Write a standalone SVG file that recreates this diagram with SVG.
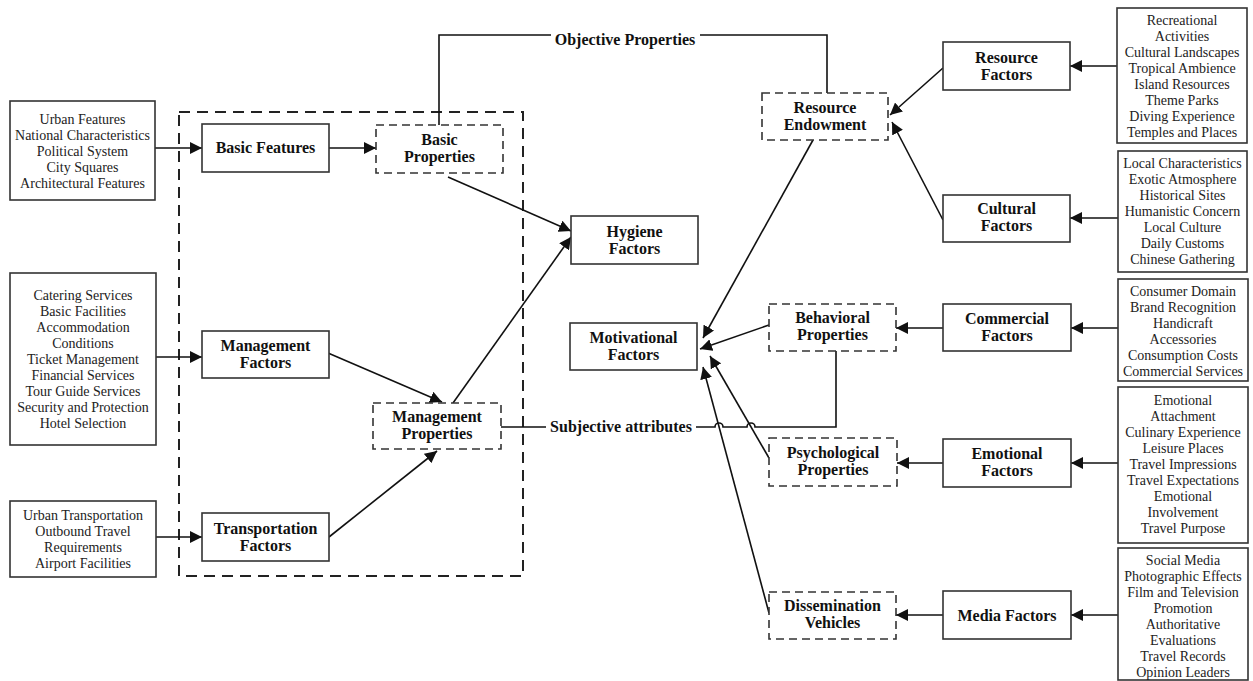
<svg xmlns="http://www.w3.org/2000/svg" width="1253" height="681" viewBox="0 0 1253 681">
<style>
.bx{fill:#fff;stroke:#333;stroke-width:1.6}
.db{fill:#fff;stroke:#333;stroke-width:1.6;stroke-dasharray:8 5}
.big{fill:none;stroke:#222;stroke-width:2;stroke-dasharray:11 7}
.ln{fill:none;stroke:#111;stroke-width:1.6}
.ar{fill:none;stroke:#111;stroke-width:1.6;marker-end:url(#ah)}
.t{font-family:"Liberation Serif","Times New Roman",serif;font-size:16px;font-weight:bold;fill:#111;text-anchor:middle}
.l{font-family:"Liberation Serif","Times New Roman",serif;font-size:14px;fill:#222;text-anchor:middle}
</style>
<defs>
<marker id="ah" markerUnits="userSpaceOnUse" markerWidth="13" markerHeight="12" refX="12" refY="6" orient="auto">
<path d="M0,0 L12,6 L0,12 z" fill="#111"/>
</marker>
</defs>
<rect width="1253" height="681" fill="#fff"/>

<rect class="big" x="179" y="112" width="344" height="464"/>

<g id="connectors">
<path class="ln" d="M439,125 V35 H827 V93"/>
<path class="ln" d="M501,427 H715 a4,4 0 0 1 8,0 H747 a4,4 0 0 1 8,0 H836 V351"/>
<path class="ar" d="M155,148 H202"/>
<path class="ar" d="M329,148 H376"/>
<path class="ar" d="M156,357 H202"/>
<path class="ar" d="M156,537 H202"/>
<path class="ar" d="M448,177 L571,231"/>
<path class="ar" d="M453,403 L571,237"/>
<path class="ar" d="M328,353 L442,402"/>
<path class="ar" d="M329,537 L437,451"/>
<path class="ar" d="M813,140 L703,338"/>
<path class="ar" d="M769,325 L700,349"/>
<path class="ar" d="M769,458 L710,356"/>
<path class="ar" d="M769,613 L703,367"/>
<path class="ar" d="M943,68 L890,115"/>
<path class="ar" d="M943,220 L892,122"/>
<path class="ar" d="M1117,66 H1070"/>
<path class="ar" d="M1118,218 H1070"/>
<path class="ar" d="M1118,328 H1071"/>
<path class="ar" d="M943,328 H896"/>
<path class="ar" d="M1118,463 H1071"/>
<path class="ar" d="M943,463 H897"/>
<path class="ar" d="M1118,615 H1071"/>
<path class="ar" d="M943,615 H896"/>
<rect x="551" y="28" width="149" height="16" fill="#fff"/>
<text class="t" x="625" y="45">Objective Properties</text>
<rect x="546" y="419" width="150" height="16" fill="#fff"/>
<text class="t" x="621" y="432">Subjective attributes</text>
</g>

<g id="urban-list">
<rect class="bx" x="10" y="101" width="145" height="99"/>
<text class="l" x="82.5" y="123.5">Urban Features</text>
<text class="l" x="82.5" y="139.5">National Characteristics</text>
<text class="l" x="82.5" y="155.5">Political System</text>
<text class="l" x="82.5" y="171.5">City Squares</text>
<text class="l" x="82.5" y="187.5">Architectural Features</text>
</g>
<g id="management-list">
<rect class="bx" x="10" y="273" width="146" height="172"/>
<text class="l" x="83" y="299.5">Catering Services</text>
<text class="l" x="83" y="315.5">Basic Facilities</text>
<text class="l" x="83" y="331.5">Accommodation</text>
<text class="l" x="83" y="347.5">Conditions</text>
<text class="l" x="83" y="363.5">Ticket Management</text>
<text class="l" x="83" y="379.5">Financial Services</text>
<text class="l" x="83" y="395.5">Tour Guide Services</text>
<text class="l" x="83" y="411.5">Security and Protection</text>
<text class="l" x="83" y="427.5">Hotel Selection</text>
</g>
<g id="transport-list">
<rect class="bx" x="10" y="501" width="146" height="76"/>
<text class="l" x="83" y="519.5">Urban Transportation</text>
<text class="l" x="83" y="535.5">Outbound Travel</text>
<text class="l" x="83" y="551.5">Requirements</text>
<text class="l" x="83" y="567.5">Airport Facilities</text>
</g>

<g id="basic-features">
<rect class="bx" x="202" y="124" width="127" height="48"/>
<text class="t" x="265.5" y="153">Basic Features</text>
</g>
<g id="management-factors">
<rect class="bx" x="202" y="331" width="127" height="47"/>
<text class="t" x="265.5" y="351">Management</text>
<text class="t" x="265.5" y="368">Factors</text>
</g>
<g id="transportation-factors">
<rect class="bx" x="202" y="513" width="127" height="48"/>
<text class="t" x="265.5" y="533.5">Transportation</text>
<text class="t" x="265.5" y="550.5">Factors</text>
</g>
<g id="basic-properties">
<rect class="db" x="376" y="125" width="127" height="48"/>
<text class="t" x="439.5" y="145">Basic</text>
<text class="t" x="439.5" y="162">Properties</text>
</g>
<g id="management-properties">
<rect class="db" x="373" y="403" width="128" height="46"/>
<text class="t" x="437" y="422">Management</text>
<text class="t" x="437" y="439">Properties</text>
</g>
<g id="hygiene-factors">
<rect class="bx" x="571" y="216" width="127" height="48"/>
<text class="t" x="634.5" y="236.5">Hygiene</text>
<text class="t" x="634.5" y="253.5">Factors</text>
</g>
<g id="motivational-factors">
<rect class="bx" x="570" y="323" width="127" height="47"/>
<text class="t" x="633.5" y="342.5">Motivational</text>
<text class="t" x="633.5" y="359.5">Factors</text>
</g>
<g id="resource-endowment">
<rect class="db" x="762" y="93" width="126" height="47"/>
<text class="t" x="825" y="112.5">Resource</text>
<text class="t" x="825" y="129.5">Endowment</text>
</g>
<g id="behavioral-properties">
<rect class="db" x="769" y="304" width="127" height="47"/>
<text class="t" x="832.5" y="323">Behavioral</text>
<text class="t" x="832.5" y="340">Properties</text>
</g>
<g id="psychological-properties">
<rect class="db" x="769" y="438" width="128" height="48"/>
<text class="t" x="833" y="458">Psychological</text>
<text class="t" x="833" y="475">Properties</text>
</g>
<g id="dissemination-vehicles">
<rect class="db" x="769" y="592" width="127" height="47"/>
<text class="t" x="832.5" y="611">Dissemination</text>
<text class="t" x="832.5" y="628">Vehicles</text>
</g>

<g id="resource-factors">
<rect class="bx" x="943" y="42" width="127" height="48"/>
<text class="t" x="1006.5" y="62.5">Resource</text>
<text class="t" x="1006.5" y="79.5">Factors</text>
</g>
<g id="cultural-factors">
<rect class="bx" x="943" y="195" width="127" height="47"/>
<text class="t" x="1006.5" y="214">Cultural</text>
<text class="t" x="1006.5" y="231">Factors</text>
</g>
<g id="commercial-factors">
<rect class="bx" x="943" y="304" width="128" height="47"/>
<text class="t" x="1007" y="323.5">Commercial</text>
<text class="t" x="1007" y="340.5">Factors</text>
</g>
<g id="emotional-factors">
<rect class="bx" x="943" y="439" width="128" height="48"/>
<text class="t" x="1007" y="458.5">Emotional</text>
<text class="t" x="1007" y="475.5">Factors</text>
</g>
<g id="media-factors">
<rect class="bx" x="943" y="591" width="128" height="48"/>
<text class="t" x="1007" y="620.5">Media Factors</text>
</g>

<g id="resource-list">
<rect class="bx" x="1117" y="8" width="130" height="135"/>
<text class="l" x="1182" y="24.5">Recreational</text>
<text class="l" x="1182" y="40.5">Activities</text>
<text class="l" x="1182" y="56.5">Cultural Landscapes</text>
<text class="l" x="1182" y="72.5">Tropical Ambience</text>
<text class="l" x="1182" y="88.5">Island Resources</text>
<text class="l" x="1182" y="104.5">Theme Parks</text>
<text class="l" x="1182" y="120.5">Diving Experience</text>
<text class="l" x="1182" y="136.5">Temples and Places</text>
</g>
<g id="cultural-list">
<rect class="bx" x="1118" y="151" width="129" height="121"/>
<text class="l" x="1182.5" y="167.5">Local Characteristics</text>
<text class="l" x="1182.5" y="183.5">Exotic Atmosphere</text>
<text class="l" x="1182.5" y="199.5">Historical Sites</text>
<text class="l" x="1182.5" y="215.5">Humanistic Concern</text>
<text class="l" x="1182.5" y="231.5">Local Culture</text>
<text class="l" x="1182.5" y="247.5">Daily Customs</text>
<text class="l" x="1182.5" y="263.5">Chinese Gathering</text>
</g>
<g id="commercial-list">
<rect class="bx" x="1118" y="279" width="130" height="102"/>
<text class="l" x="1183" y="295.5">Consumer Domain</text>
<text class="l" x="1183" y="311.5">Brand Recognition</text>
<text class="l" x="1183" y="327.5">Handicraft</text>
<text class="l" x="1183" y="343.5">Accessories</text>
<text class="l" x="1183" y="359.5">Consumption Costs</text>
<text class="l" x="1183" y="375.5">Commercial Services</text>
</g>
<g id="emotional-list">
<rect class="bx" x="1118" y="387" width="130" height="156"/>
<text class="l" x="1183" y="404.5">Emotional</text>
<text class="l" x="1183" y="420.5">Attachment</text>
<text class="l" x="1183" y="436.5">Culinary Experience</text>
<text class="l" x="1183" y="452.5">Leisure Places</text>
<text class="l" x="1183" y="468.5">Travel Impressions</text>
<text class="l" x="1183" y="484.5">Travel Expectations</text>
<text class="l" x="1183" y="500.5">Emotional</text>
<text class="l" x="1183" y="516.5">Involvement</text>
<text class="l" x="1183" y="532.5">Travel Purpose</text>
</g>
<g id="media-list">
<rect class="bx" x="1118" y="548" width="130" height="132"/>
<text class="l" x="1183" y="564.5">Social Media</text>
<text class="l" x="1183" y="580.5">Photographic Effects</text>
<text class="l" x="1183" y="596.5">Film and Television</text>
<text class="l" x="1183" y="612.5">Promotion</text>
<text class="l" x="1183" y="628.5">Authoritative</text>
<text class="l" x="1183" y="644.5">Evaluations</text>
<text class="l" x="1183" y="660.5">Travel Records</text>
<text class="l" x="1183" y="676.5">Opinion Leaders</text>
</g>
</svg>
